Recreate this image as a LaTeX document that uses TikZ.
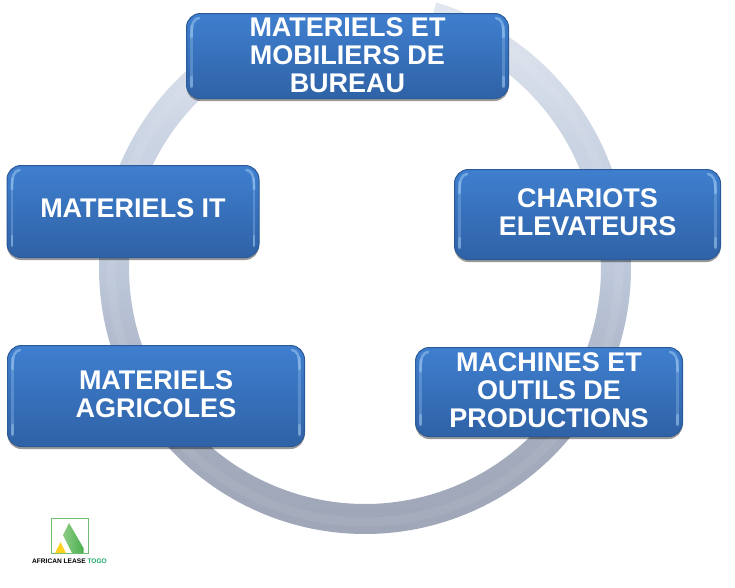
\documentclass[tikz,border=0pt]{standalone}
\usepackage{fontspec}
\setmainfont{Liberation Sans}
\usetikzlibrary{shadows,calc}
\definecolor{boxtop}{HTML}{3F7FCF}
\definecolor{boxbot}{HTML}{2F62A6}
\definecolor{boxedge}{HTML}{2A5A98}
\definecolor{glow}{HTML}{A6CFF5}
\definecolor{logogreen}{HTML}{4CB050}
\definecolor{logogreenb}{HTML}{8CCB84}
\definecolor{logoyellow}{HTML}{FFD21F}
\definecolor{togo}{HTML}{1FA866}
\definecolor{ringa}{HTML}{9EA6B7}
\definecolor{ringb}{HTML}{A4ACBD}
\definecolor{ringc}{HTML}{BDC8DB}
\definecolor{ringd}{HTML}{CBD4E3}
\definecolor{ringe}{HTML}{E2E7F0}
\pgfdeclareverticalshading{ringshade}{100bp}{
  color(0bp)=(ringa);
  color(25bp)=(ringa);
  color(35bp)=(ringb);
  color(50bp)=(ringc);
  color(62bp)=(ringd);
  color(75bp)=(ringe);
  color(100bp)=(ringe)}
\tikzset{
  x=1pt,y=-1pt,
  bluebox/.style={draw=boxedge,line width=1pt,rounded corners=14pt,top color=boxtop,bottom color=boxbot,
    drop shadow={shadow xshift=0pt,shadow yshift=-2.5pt,fill=black,opacity=.4}},
  boxlabel/.style={text=white,align=center,inner sep=0pt,
    font=\fontsize{27}{28.2}\selectfont\bfseries},
  edgeglow/.style={line width=2.6pt,line cap=round,color=glow},
  ringbody/.style={shading=ringshade},
}
% name, cx, cy, width, height, text shift, text
\newcommand{\bluepanel}[7]{%
  \node[bluebox,minimum width=#4 pt,minimum height=#5 pt] (#1) at (#2,#3) {};
  \draw[edgeglow,opacity=.3] ($(#1.north west)+(5.5,13)$) -- ($(#1.south west)+(5.5,-13)$);
  \draw[edgeglow,opacity=.3] ($(#1.north east)+(-5.5,13)$) -- ($(#1.south east)+(-5.5,-13)$);
  \draw[edgeglow,opacity=.5] ($(#1.north west)+(13,5)$) .. controls ($(#1.north west)+(8,6)$) and ($(#1.north west)+(5.5,9)$) .. ($(#1.north west)+(5.5,24)$);
  \draw[edgeglow,opacity=.5] ($(#1.north east)+(-13,5)$) .. controls ($(#1.north east)+(-8,6)$) and ($(#1.north east)+(-5.5,9)$) .. ($(#1.north east)+(-5.5,24)$);
  \draw[edgeglow,opacity=.4] ($(#1.south west)+(5.5,-22)$) -- ($(#1.south west)+(5.5,-12)$);
  \draw[edgeglow,opacity=.4] ($(#1.south east)+(-5.5,-22)$) -- ($(#1.south east)+(-5.5,-12)$);
  \node[boxlabel] (#1text) at ($(#1.center)+(0,#6)$) {#7};
}
\begin{document}
\begin{tikzpicture}
\useasboundingbox (0,0) rectangle (735,587);
\fill[white] (0,0) rectangle (735,587);
% ring
\pgfmathdeclarefunction{flare}{1}{\pgfmathparse{9*max(0,(#1-22)/53)}}
\path[ringbody] plot[domain=75:-240,samples=160,smooth] ({365+(266+flare(\x))*cos(\x)},{268-(266+flare(\x))*sin(\x)})
  -- plot[domain=-240:75,samples=160,smooth] ({365+(236+flare(\x))*cos(\x)},{268-(236+flare(\x))*sin(\x)}) -- cycle;
\draw[white,opacity=.07,line width=9pt] plot[domain=70:-240,samples=160,smooth] ({365+(254+flare(\x))*cos(\x)},{268-(254+flare(\x))*sin(\x)});
% boxes
\bluepanel{bureau}{347.5}{56}{322}{85}{-1}{MATERIELS ET\\MOBILIERS DE\\BUREAU}
\bluepanel{it}{133}{211.5}{252}{92}{-3}{MATERIELS IT}
\bluepanel{chariots}{587.5}{214.5}{266}{90}{-2}{CHARIOTS\\ELEVATEURS}
\bluepanel{agri}{156}{396}{297}{101}{-1.5}{MATERIELS\\AGRICOLES}
\bluepanel{machines}{549}{392}{267}{89}{-2}{MACHINES ET\\OUTILS DE\\PRODUCTIONS}
% logo
\draw[logogreen!80!white,line width=1pt] (51.5,518) rectangle (88,553);
\shade[left color=logogreenb,right color=logogreen] (69,523) -- (83.5,548) -- (83.5,553) -- (72,553) -- (63,535) -- cycle;
\fill[logoyellow] (60.5,542) -- (66,553) -- (55,553) -- cycle;
\node[inner sep=0pt,font=\fontsize{6.6}{7}\selectfont\bfseries] (logotext) at (69.5,561.5) {AFRICAN LEASE \textcolor{togo}{TOGO}};
\end{tikzpicture}
\end{document}
